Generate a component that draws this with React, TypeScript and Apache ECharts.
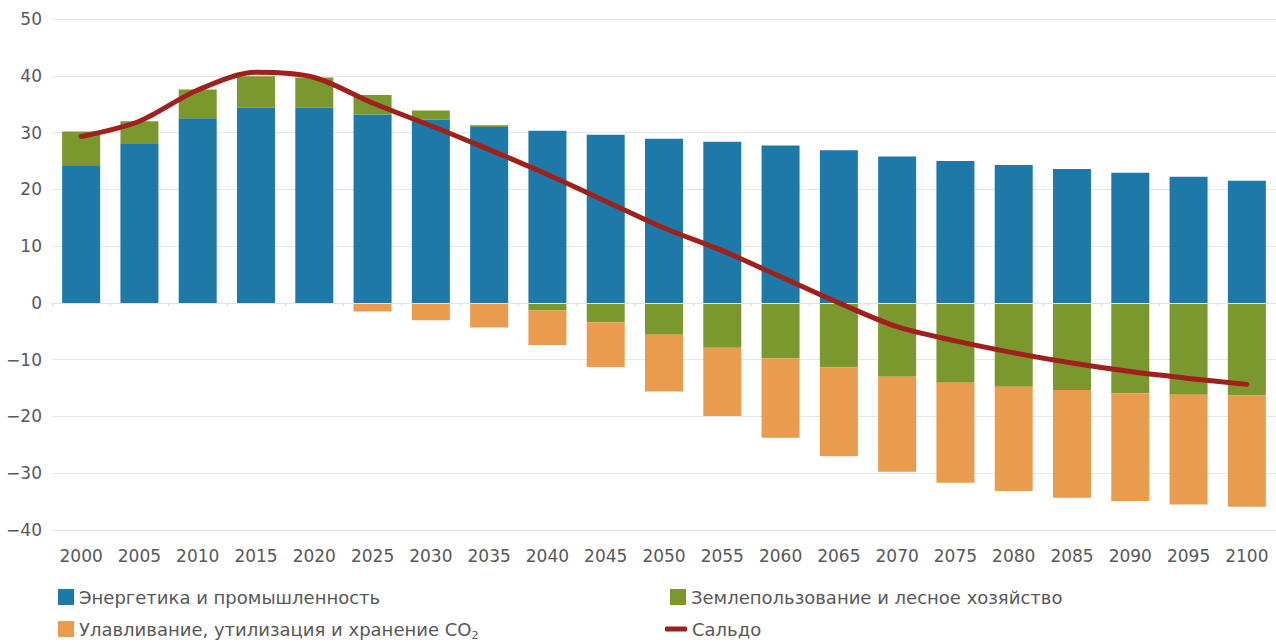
import React, { useEffect, useRef } from "react";
import * as echarts from "echarts";

// Years on the category axis
const years = [
  "2000", "2005", "2010", "2015", "2020", "2025", "2030", "2035", "2040", "2045", "2050",
  "2055", "2060", "2065", "2070", "2075", "2080", "2085", "2090", "2095", "2100",
];

// Energy & industry emissions
const energy = [
  24.1, 28.0, 32.5, 34.4, 34.4, 33.2, 32.3, 31.0, 30.3, 29.6, 28.9,
  28.4, 27.7, 26.9, 25.8, 25.0, 24.3, 23.6, 22.9, 22.2, 21.5,
];

// Land use & forestry
const landUse = [
  6.1, 4.0, 5.1, 5.5, 5.3, 3.4, 1.6, 0.3, -1.35, -3.4, -5.6,
  -7.9, -9.75, -11.4, -13.0, -14.05, -14.75, -15.35, -15.9, -16.2, -16.3,
];

// Carbon capture, utilisation and storage
const ccs = [
  0, 0, 0, 0, 0, -1.5, -3.05, -4.35, -6.05, -7.9, -10.0,
  -12.0, -14.0, -15.6, -16.75, -17.65, -18.4, -18.95, -19.0, -19.3, -19.6,
];

// Net balance
const balance = [
  29.3, 32.0, 37.5, 40.6, 39.7, 35.2, 31.2, 27.0, 22.6, 17.9, 13.2,
  9.2, 4.6, 0.0, -4.2, -6.7, -8.8, -10.6, -12.1, -13.3, -14.35,
];

const yTicks = { min: -40, max: 50, step: 10 };

const NAME_ENERGY = "Энергетика и промышленность";
const NAME_LAND = "Землепользование и лесное хозяйство";
const NAME_CCS = "Улавливание, утилизация и хранение CO₂";
const NAME_BALANCE = "Сальдо";

const C_BLUE = "#1d79a8";
const C_GREEN = "#7a982d";
const C_ORANGE = "#e99c4e";
const C_RED = "#a0211b";
const TEXT = "#585858";
const FONT = "DejaVu Sans";

export default function App() {
  const ref = useRef<HTMLDivElement>(null);

  useEffect(() => {
    if (!ref.current) return;
    const chart = echarts.init(ref.current, null, { renderer: "svg" });

    const legendText = { color: TEXT, fontFamily: FONT, fontSize: 18 };
    const legendBase = {
      orient: "horizontal" as const,
      padding: 0,
      selectedMode: false,
      textStyle: legendText,
    };

    chart.setOption({
      animation: false,
      backgroundColor: "#ffffff",
      grid: { left: 52, top: 19, width: 1228, height: 511, containLabel: false },
      legend: [
        { ...legendBase, left: 58, top: 588, data: [NAME_ENERGY], icon: "rect", itemWidth: 16, itemHeight: 16 },
        { ...legendBase, left: 670, top: 588, data: [NAME_LAND], icon: "rect", itemWidth: 16, itemHeight: 16 },
        {
          ...legendBase,
          left: 58,
          top: 620,
          data: [NAME_CCS],
          icon: "rect",
          itemWidth: 16,
          itemHeight: 16,
          formatter: () => "{t|Улавливание, утилизация и хранение CO}{s|2}",
          textStyle: {
            ...legendText,
            rich: {
              t: { color: TEXT, fontFamily: FONT, fontSize: 18, lineHeight: 22 },
              s: { color: TEXT, fontFamily: FONT, fontSize: 11, lineHeight: 24, verticalAlign: "bottom" },
            },
          },
        },
        { ...legendBase, left: 665, top: 620, data: [NAME_BALANCE], icon: "roundRect", itemWidth: 22, itemHeight: 5 },
      ],
      xAxis: [
        {
          // zero baseline with boundary ticks, drawn over the bars
          type: "category",
          data: years,
          axisLine: { show: true, onZero: true, lineStyle: { color: "#dfe6e8", width: 1 } },
          axisTick: { show: true, length: 3, lineStyle: { color: "#d5d5d5" } },
          axisLabel: { show: false },
          splitLine: { show: false },
          z: 3,
        },
        {
          // year labels along the bottom of the plot
          type: "category",
          data: years,
          position: "bottom",
          axisLine: { show: false, onZero: false },
          axisTick: { show: false },
          axisLabel: { show: true, color: TEXT, fontFamily: FONT, fontSize: 17, margin: 17 },
          splitLine: { show: false },
        },
      ],
      yAxis: {
        type: "value",
        min: yTicks.min,
        max: yTicks.max,
        interval: yTicks.step,
        axisLine: { show: false },
        axisTick: { show: false },
        axisLabel: {
          color: TEXT,
          fontFamily: FONT,
          fontSize: 17,
          margin: 10,
          formatter: (v: number) => String(v).replace("-", "\u2212"),
        },
        splitLine: { lineStyle: { color: "#e6e6e6", width: 1 } },
      },
      series: [
        {
          name: NAME_ENERGY,
          type: "bar",
          stack: "total",
          xAxisIndex: 0,
          barWidth: 38,
          itemStyle: { color: C_BLUE },
          data: energy,
        },
        {
          name: NAME_LAND,
          type: "bar",
          stack: "total",
          xAxisIndex: 0,
          barWidth: 38,
          itemStyle: { color: C_GREEN },
          data: landUse,
        },
        {
          name: NAME_CCS,
          type: "bar",
          stack: "total",
          xAxisIndex: 0,
          barWidth: 38,
          itemStyle: { color: C_ORANGE },
          data: ccs,
        },
        {
          name: NAME_BALANCE,
          type: "line",
          xAxisIndex: 0,
          smooth: 0.3,
          showSymbol: false,
          symbol: "none",
          itemStyle: { color: C_RED },
          lineStyle: { color: C_RED, width: 5, cap: "round", join: "round" },
          data: balance,
          z: 5,
        },
      ],
    });

    return () => chart.dispose();
  }, []);

  return (
    <div
      ref={ref}
      style={{ position: "fixed", left: 0, top: 0, width: 1276, height: 644, background: "#ffffff" }}
    />
  );
}
